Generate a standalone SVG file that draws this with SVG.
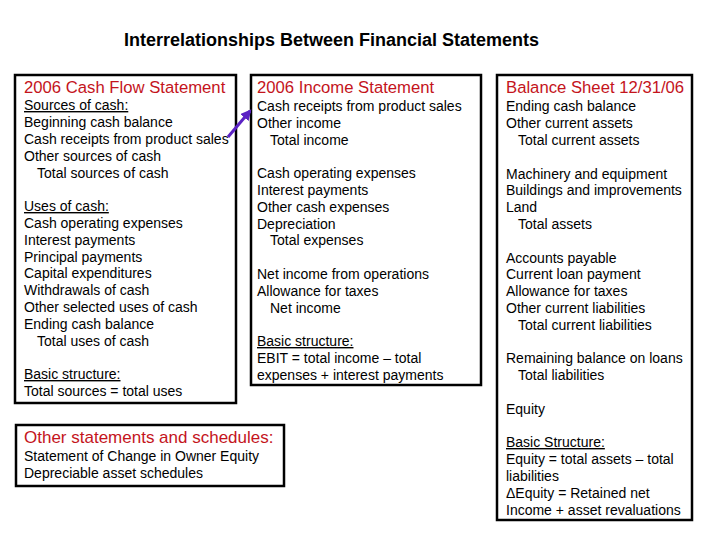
<svg xmlns="http://www.w3.org/2000/svg" width="720" height="540" viewBox="0 0 720 540">
<style>
text{font-family:"Liberation Sans",Arial,sans-serif;fill:#000}
.t{font-size:18px;font-weight:bold}
.h{font-size:16.7px;fill:#c4141c}
.b{font-size:14px}
.u{text-decoration:underline}
.box{fill:#fff;stroke:#000;stroke-width:2.5}
</style>
<defs>
<marker id="ah" viewBox="0 0 10 10" refX="8" refY="5" markerWidth="3.6" markerHeight="3.6" orient="auto" markerUnits="strokeWidth">
<path d="M0,0 L10,5 L0,10 z" fill="#5b22c4"/>
</marker>
</defs>
<rect width="720" height="540" fill="#fff"/>
<text class="t" x="124" y="46">Interrelationships Between Financial Statements</text>

<g id="cashflow">
<rect class="box" x="15" y="75" width="221" height="328"/>
<text class="h" x="24" y="93">2006 Cash Flow Statement</text>
<text class="b u" x="24" y="110">Sources of cash:</text>
<text class="b" x="24" y="127">Beginning cash balance</text>
<text class="b" x="24" y="144">Cash receipts from product sales</text>
<text class="b" x="24" y="161">Other sources of cash</text>
<text class="b" x="37" y="178">Total sources of cash</text>
<text class="b u" x="24" y="211">Uses of cash:</text>
<text class="b" x="24" y="228">Cash operating expenses</text>
<text class="b" x="24" y="245">Interest payments</text>
<text class="b" x="24" y="262">Principal payments</text>
<text class="b" x="24" y="278">Capital expenditures</text>
<text class="b" x="24" y="295">Withdrawals of cash</text>
<text class="b" x="24" y="312">Other selected uses of cash</text>
<text class="b" x="24" y="329">Ending cash balance</text>
<text class="b" x="37" y="346">Total uses of cash</text>
<text class="b u" x="24" y="379">Basic structure:</text>
<text class="b" x="24" y="396">Total sources = total uses</text>
</g>

<g id="income">
<rect class="box" x="251" y="75" width="230" height="310"/>
<text class="h" x="257" y="93">2006 Income Statement</text>
<text class="b" x="257" y="111">Cash receipts from product sales</text>
<text class="b" x="257" y="128">Other income</text>
<text class="b" x="270" y="145">Total income</text>
<text class="b" x="257" y="178">Cash operating expenses</text>
<text class="b" x="257" y="195">Interest payments</text>
<text class="b" x="257" y="212">Other cash expenses</text>
<text class="b" x="257" y="229">Depreciation</text>
<text class="b" x="270" y="245">Total expenses</text>
<text class="b" x="257" y="279">Net income from operations</text>
<text class="b" x="257" y="296">Allowance for taxes</text>
<text class="b" x="270" y="313">Net income</text>
<text class="b u" x="257" y="346">Basic structure:</text>
<text class="b" x="257" y="363">EBIT = total income – total</text>
<text class="b" x="257" y="380">expenses + interest payments</text>
</g>

<g id="balance">
<rect class="box" x="497" y="75" width="195" height="445"/>
<text class="h" x="506" y="93">Balance Sheet 12/31/06</text>
<text class="b" x="506" y="111">Ending cash balance</text>
<text class="b" x="506" y="128">Other current assets</text>
<text class="b" x="518" y="145">Total current assets</text>
<text class="b" x="506" y="179">Machinery and equipment</text>
<text class="b" x="506" y="195">Buildings and improvements</text>
<text class="b" x="506" y="212">Land</text>
<text class="b" x="518" y="229">Total assets</text>
<text class="b" x="506" y="263">Accounts payable</text>
<text class="b" x="506" y="279">Current loan payment</text>
<text class="b" x="506" y="296">Allowance for taxes</text>
<text class="b" x="506" y="313">Other current liabilities</text>
<text class="b" x="518" y="330">Total current liabilities</text>
<text class="b" x="506" y="363">Remaining balance on loans</text>
<text class="b" x="518" y="380">Total liabilities</text>
<text class="b" x="506" y="414">Equity</text>
<text class="b u" x="506" y="447">Basic Structure:</text>
<text class="b" x="506" y="464">Equity = total assets – total</text>
<text class="b" x="506" y="481">liabilities</text>
<text class="b" x="506" y="498">ΔEquity = Retained net</text>
<text class="b" x="506" y="515">Income + asset revaluations</text>
</g>

<g id="other">
<rect class="box" x="16" y="425" width="268" height="61"/>
<text class="h" x="24" y="443" style="font-size:17px">Other statements and schedules:</text>
<text class="b" x="24" y="461">Statement of Change in Owner Equity</text>
<text class="b" x="24" y="478">Depreciable asset schedules</text>
</g>

<g id="connectors">
<line x1="228" y1="137" x2="250" y2="111" stroke="#5b22c4" stroke-width="3" marker-end="url(#ah)"/>
</g>
</svg>
